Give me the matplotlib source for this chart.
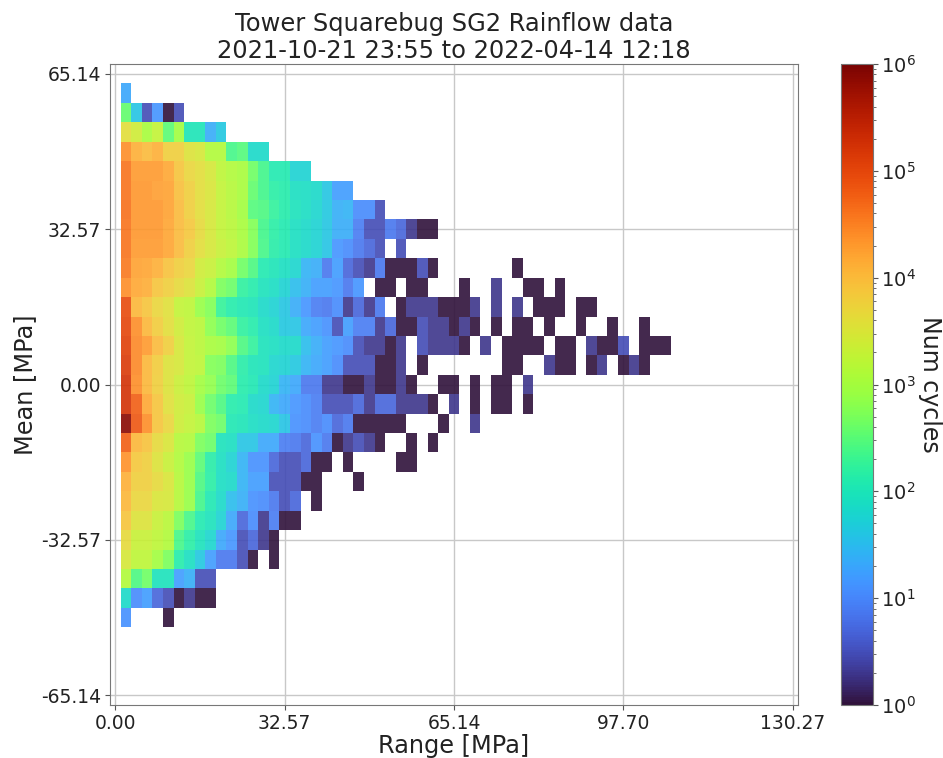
import numpy as np
import matplotlib
matplotlib.use("Agg")
import matplotlib.pyplot as plt
from matplotlib.colors import LogNorm
from matplotlib.cm import ScalarMappable

#%%
# axis ticks
x_ticks = [0.00, 32.57, 65.14, 97.70, 130.27]
y_ticks = [-65.14, -32.57, 0.00, 32.57, 65.14]

# cycle counts per mean bin (name = bin number above/below 0), one value per range bin, 0 = no cycles
m15 = [20]
m14 = [360, 38, 3, 14, 1, 3]
m13 = [4000, 2500, 1100, 1900, 330, 950, 100, 100, 22, 42]
m12 = [25000, 13000, 10000, 13000, 6000, 6000, 3300, 2800, 1250, 1250, 240, 290, 70, 70]
m11 = [40000, 20000, 20000, 20000, 15000, 8000, 5000, 4000, 2800, 1700, 1250, 1100, 430, 225, 120, 120, 55, 55]
m10 = [40000, 21000, 21000, 18000, 17000, 9000, 6000, 4000, 3000, 1900, 1400, 1100, 360, 225, 150, 130, 80, 75,
       70, 40, 16, 16]
m9 = [42000, 21000, 21000, 21000, 17000, 10000, 6000, 4000, 2800, 1900, 1400, 950, 290, 260, 170, 130, 90, 75,
      62, 42, 24, 26, 11, 11, 3]
m8 = [40000, 21000, 21000, 21000, 16000, 10000, 7000, 4500, 2800, 1900, 1500, 1100, 580, 225, 150, 120, 80, 70,
      55, 40, 22, 22, 8, 3, 3, 7, 5, 2, 1, 1]
m7 = [40000, 20000, 20000, 20000, 16000, 10000, 6000, 4000, 2800, 2100, 1700, 1150, 580, 240, 140, 120, 80, 70,
      55, 38, 14, 11, 7, 5, 3, 0, 3]
m6 = [36000, 17000, 16000, 13000, 8500, 6000, 5000, 2500, 2100, 1250, 950, 430, 260, 120, 100, 80, 62, 26,
      22, 7, 16, 5, 3, 2, 7, 1, 1, 1, 3, 1, 0, 0, 0, 0, 0, 0, 0, 1]
m5 = [25000, 15000, 13500, 8000, 6000, 4500, 3400, 2100, 1300, 500, 400, 160, 130, 90, 75, 55, 32, 24,
      16, 16, 14, 7, 14, 0, 1, 1, 0, 1, 1, 0, 0, 0, 1, 0, 0, 2, 0, 0, 1, 1, 0, 1]
m4 = [90000, 11000, 8000, 5000, 3800, 1900, 1700, 800, 580, 180, 130, 110, 100, 70, 55, 40, 22, 14,
      8, 7, 11, 2, 5, 2, 7, 0, 1, 2, 2, 2, 1, 1, 1, 2, 0, 2, 0, 2, 0, 1, 1, 1, 0, 1, 1]
m3 = [100000, 25000, 11000, 6500, 4000, 2500, 1800, 1500, 650, 430, 330, 160, 130, 80, 70, 42, 38, 20,
      16, 12, 3, 16, 8, 8, 2, 5, 1, 1, 3, 2, 2, 1, 2, 1, 0, 1, 0, 1, 1, 0, 1, 0, 0, 1, 0, 0, 1, 0, 0, 1]
m2 = [120000, 28000, 20000, 10000, 6000, 2800, 1900, 1500, 1100, 950, 650, 260, 170, 90, 80, 70, 70, 32,
      22, 16, 14, 11, 3, 2, 2, 1, 2, 0, 3, 2, 2, 2, 1, 0, 2, 0, 1, 1, 1, 1, 0, 1, 1, 0, 2, 1, 1, 3, 0, 1, 1, 1]
m1 = [140000, 28000, 11000, 6500, 3400, 2800, 1900, 1700, 580, 500, 260, 140, 100, 90, 62, 55, 42, 26,
      20, 16, 11, 3, 3, 3, 1, 1, 2, 0, 1, 0, 0, 0, 0, 0, 0, 0, 1, 1, 0, 0, 2, 1, 1, 0, 1, 2, 0, 1, 2, 1]
z0 = [170000, 25000, 11000, 6000, 3400, 2200, 1700, 950, 700, 400, 330, 130, 110, 70, 55, 26, 20, 7,
      7, 2, 2, 1, 1, 2, 1, 1, 2, 1, 0, 0, 1, 1, 0, 1, 0, 1, 1, 0, 2]
n1 = [170000, 60000, 15000, 8000, 3800, 2500, 2100, 800, 400, 260, 130, 120, 70, 62, 26, 20, 14, 11,
      8, 3, 3, 3, 5, 2, 5, 5, 2, 2, 2, 1, 0, 2, 0, 1, 0, 1, 1, 0, 1]
n2 = [800000, 70000, 25000, 8000, 5000, 2300, 1900, 1400, 500, 400, 110, 100, 75, 70, 62, 38, 12, 11,
      8, 11, 5, 7, 1, 1, 1, 1, 1, 0, 0, 0, 1, 0, 0, 2]
n3 = [60000, 11000, 8500, 4500, 3000, 1400, 1250, 500, 400, 90, 80, 38, 38, 20, 20, 8, 7, 5,
      12, 7, 1, 2, 3, 2, 1, 0, 0, 1, 0, 1]
n4 = [23000, 7000, 6000, 3400, 2100, 1250, 800, 330, 140, 80, 55, 26, 12, 12, 5, 3, 3, 5,
      1, 1, 0, 1, 0, 0, 0, 0, 1, 1]
n5 = [13000, 6000, 6000, 4500, 3000, 1400, 800, 260, 150, 75, 70, 26, 16, 16, 3, 3, 3, 1, 1, 0, 0, 0, 1]
n6 = [11000, 5000, 5000, 3000, 2800, 1400, 800, 225, 110, 70, 32, 24, 12, 11, 7, 3, 5, 0, 1]
n7 = [8000, 3400, 3400, 2100, 1500, 500, 240, 120, 90, 55, 20, 5, 11, 2, 8, 1, 1]
n8 = [4500, 2100, 2100, 1700, 1250, 240, 150, 90, 62, 20, 14, 3, 5, 2, 1]
n9 = [2800, 1700, 1700, 950, 500, 130, 80, 42, 16, 7, 7, 3, 1, 0, 1]
n10 = [1250, 260, 430, 90, 90, 16, 24, 3, 3]
n11 = [70, 11, 16, 5, 3, 1, 2, 1, 1]
n12 = [12, 0, 0, 0, 1]

mean_rows = [m15, m14, m13, m12, m11, m10, m9, m8, m7, m6, m5, m4, m3, m2, m1, z0,
             n1, n2, n3, n4, n5, n6, n7, n8, n9, n10, n11, n12]

#%%
# bins are centred on multiples of the bin width, so the edges sit half a bin off
range_max = 130.27
mean_max = 65.14
n_range = 64
n_mean = 32
dx = range_max / n_range
dy = 2 * mean_max / n_mean

counts = np.zeros((len(mean_rows), n_range))
for i, row in enumerate(mean_rows):
    counts[i, :len(row)] = row
counts = np.ma.masked_equal(counts, 0)

x_edges = dx / 2 + dx * np.arange(n_range + 1)
y_edges = mean_max - dy / 2 - dy * np.arange(len(mean_rows) + 1)

#%%
fig = plt.figure(figsize=(9.43, 7.58), dpi=100)
ax = fig.add_axes([110 / 943, 1 - 705 / 758, 688 / 943, 641 / 758])
cax = fig.add_axes([841 / 943, 1 - 705 / 758, 32 / 943, 641 / 758])

norm = LogNorm(vmin=1, vmax=1e6)
ax.pcolormesh(x_edges, y_edges, counts, cmap='turbo', norm=norm, alpha=0.9)

ax.set_xlim(-dx / 2, range_max + dx / 2)
ax.set_ylim(-mean_max - dy / 2, mean_max + dy / 2)
ax.set_xticks(x_ticks)
ax.set_xticklabels(['{:.2f}'.format(t) for t in x_ticks])
ax.set_yticks(y_ticks)
ax.set_yticklabels(['{:.2f}'.format(t) for t in y_ticks])
ax.tick_params(labelsize=13.5, length=3.5, width=0.8, color='#555555', labelcolor='#222222', pad=3)
ax.set_axisbelow(True)
ax.grid(True, color='#c8c8c8', linewidth=1.0)
for spine in ax.spines.values():
    spine.set_color('#777777')

ax.set_xlabel('Range [MPa]', fontsize=17.3, color='#222222', labelpad=1)
ax.set_ylabel('Mean [MPa]', fontsize=17.3, color='#222222', labelpad=3)
ax.set_title('Tower Squarebug SG2 Rainflow data\n2021-10-21 23:55 to 2022-04-14 12:18',
             fontsize=17.4, color='#222222', pad=4, linespacing=1.2)

# colorbar stays opaque, only the cells carry the alpha
cb = fig.colorbar(ScalarMappable(norm=norm, cmap='turbo'), cax=cax)
cb.ax.tick_params(labelsize=14, length=3.5, width=0.8, color='#555555', labelcolor='#222222', pad=2)
cb.ax.tick_params(which='minor', length=2, width=0.6, color='#555555')
cb.ax.xaxis.set_visible(False)
cb.outline.set_edgecolor('#777777')
cb.set_label('Num cycles', fontsize=17, rotation=270, labelpad=19, color='#222222')

plt.savefig('out.png', dpi=100)
